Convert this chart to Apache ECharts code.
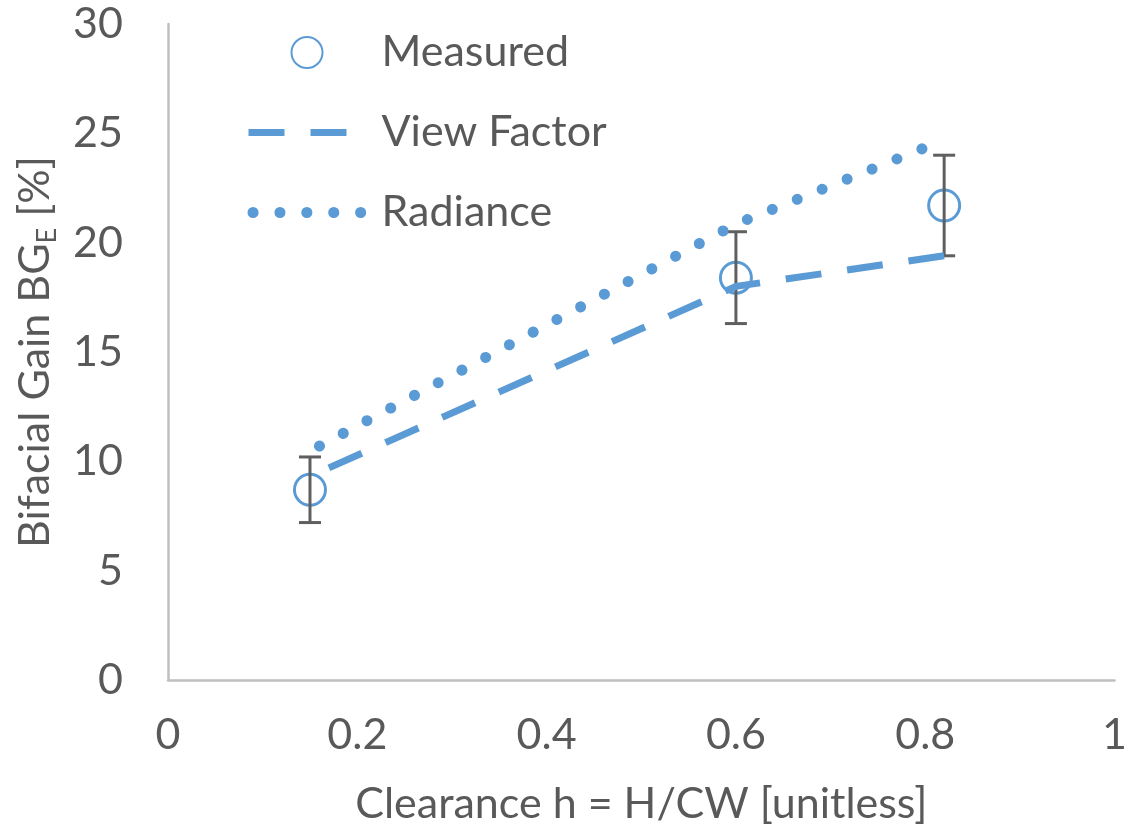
<!DOCTYPE html>
<html>
<head>
<meta charset="utf-8">
<script src="https://cdn.jsdelivr.net/npm/echarts@6/dist/echarts.min.js"></script>
<style>
  html, body { margin: 0; padding: 0; background: #ffffff; }
  #chart { width: 1130px; height: 833px; }
</style>
</head>
<body>
<div id="chart"></div>
<script>
// Axis ticks
const xTickValues = [0, 0.2, 0.4, 0.6, 0.8, 1];
const xTickLabels = ['0', '0.2', '0.4', '0.6', '0.8', '1'];
const yTickValues = [0, 5, 10, 15, 20, 25, 30];
const yTickLabels = ['0', '5', '10', '15', '20', '25', '30'];

// Measured bifacial gain with its uncertainty
const measuredX = [0.15, 0.60, 0.82];
const measuredY = [8.7, 18.4, 21.7];
const measuredErr = [1.5, 2.1, 2.3];

// View factor model
const viewFactorX = [0.17, 0.60, 0.82];
const viewFactorY = [9.7, 18.0, 19.4];

// Radiance model
const radianceX = [0.16, 0.60, 0.82];
const radianceY = [10.7, 20.85, 24.7];

const BLUE = '#5B9BD5';
const TEXT = '#595959';
const FONT = 'Lato';
const FS = 43;

const measuredData = measuredX.map((x, i) => [x, measuredY[i]]);
const errorData = measuredX.map((x, i) => [x, measuredY[i] - measuredErr[i], measuredY[i] + measuredErr[i]]);
const viewFactorData = viewFactorX.map((x, i) => [x, viewFactorY[i]]);
const radianceData = radianceX.map((x, i) => [x, radianceY[i]]);

const chart = echarts.init(document.getElementById('chart'), null, { renderer: 'canvas' });

// Legend entries for the model lines show only the line pattern
const hiddenSymbol = { opacity: 0 };

chart.setOption({
  animation: false,
  backgroundColor: '#ffffff',
  textStyle: { fontFamily: FONT, color: TEXT },
  grid: { left: 168, right: 13, top: 24, bottom: 153, containLabel: false },
  legend: {
    orient: 'vertical',
    left: 243,
    top: 31,
    padding: 0,
    itemWidth: 117,
    itemHeight: 31,
    itemGap: 37,
    lineStyle: { width: 'inherit' },
    textStyle: { fontFamily: FONT, fontSize: FS, color: TEXT, padding: [0, 0, 0, 11] },
    data: [
      { name: 'Measured' },
      { name: 'View Factor', itemStyle: hiddenSymbol },
      { name: 'Radiance', itemStyle: hiddenSymbol, lineStyle: { dashOffset: -4.5 } }
    ]
  },
  xAxis: {
    type: 'value',
    min: 0,
    max: 1,
    interval: 0.2,
    name: 'Clearance h = H/CW [unitless]',
    nameLocation: 'middle',
    nameGap: 103,
    nameTextStyle: { fontFamily: FONT, fontSize: FS, color: TEXT },
    axisLine: { show: true, lineStyle: { color: '#BFBFBF', width: 2.5 } },
    axisTick: { show: false },
    splitLine: { show: false },
    axisLabel: {
      fontFamily: FONT, fontSize: FS, color: TEXT, margin: 34,
      formatter: v => {
        const i = xTickValues.findIndex(t => Math.abs(t - v) < 1e-9);
        return i >= 0 ? xTickLabels[i] : '';
      }
    }
  },
  yAxis: {
    type: 'value',
    min: 0,
    max: 30,
    interval: 5,
    name: '{t|Bifacial Gain BG}{s|E}{t| [%]}',
    nameLocation: 'middle',
    nameRotate: 90,
    nameGap: 107,
    nameTextStyle: {
      fontFamily: FONT, color: TEXT,
      rich: {
        t: { fontFamily: FONT, fontSize: FS, color: TEXT },
        s: { fontFamily: FONT, fontSize: 27, color: TEXT, padding: [24, 0, 0, 0] }
      }
    },
    axisLine: { show: true, lineStyle: { color: '#BFBFBF', width: 2.5 } },
    axisTick: { show: false },
    splitLine: { show: false },
    axisLabel: {
      fontFamily: FONT, fontSize: FS, color: TEXT, margin: 45,
      formatter: v => {
        const i = yTickValues.findIndex(t => Math.abs(t - v) < 1e-9);
        return i >= 0 ? yTickLabels[i] : '';
      }
    }
  },
  series: [
    {
      name: 'Measured',
      type: 'scatter',
      data: measuredData,
      symbol: 'circle',
      symbolSize: 31,
      symbolKeepAspect: true,
      itemStyle: { color: '#ffffff', borderColor: BLUE, borderWidth: 3, opacity: 1 },
      z: 2
    },
    {
      name: 'Error',
      type: 'custom',
      data: errorData,
      encode: { x: 0, y: [1, 2] },
      z: 3,
      silent: true,
      renderItem: (params, api) => {
        const x = api.value(0);
        const lo = api.coord([x, api.value(1)]);
        const hi = api.coord([x, api.value(2)]);
        const hw = 11;
        const style = { stroke: '#5f5f5f', lineWidth: 3 };
        return {
          type: 'group',
          children: [
            { type: 'line', shape: { x1: lo[0], y1: lo[1], x2: hi[0], y2: hi[1] }, style },
            { type: 'line', shape: { x1: lo[0] - hw, y1: lo[1], x2: lo[0] + hw, y2: lo[1] }, style },
            { type: 'line', shape: { x1: hi[0] - hw, y1: hi[1], x2: hi[0] + hw, y2: hi[1] }, style }
          ]
        };
      }
    },
    {
      name: 'View Factor',
      type: 'line',
      data: viewFactorData,
      symbol: 'none',
      z: 4,
      lineStyle: { color: BLUE, width: 7, type: [36, 26], cap: 'butt' },
      itemStyle: { color: BLUE }
    },
    {
      name: 'Radiance',
      type: 'line',
      data: radianceData,
      symbol: 'none',
      z: 4,
      lineStyle: { color: BLUE, width: 11, type: [0.1, 26.8], cap: 'round' },
      itemStyle: { color: BLUE }
    }
  ]
});
</script>
</body>
</html>
